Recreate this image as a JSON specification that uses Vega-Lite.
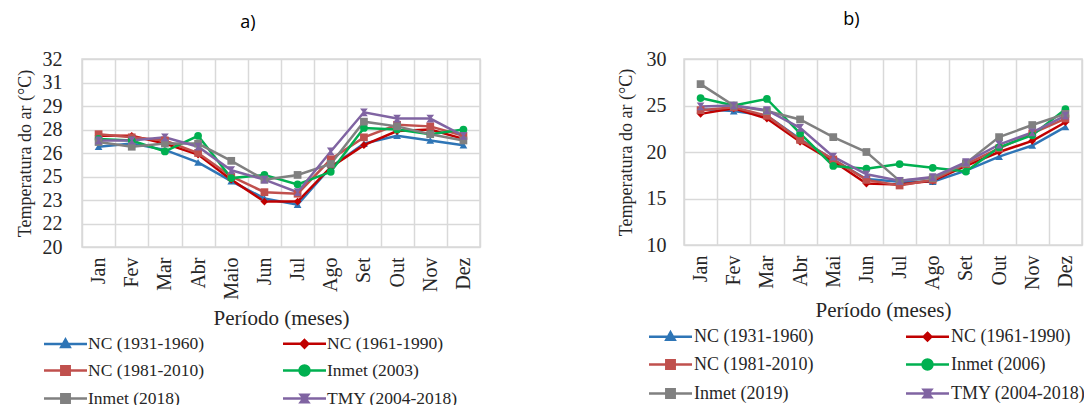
{
  "$schema": "https://vega.github.io/schema/vega-lite/v6.json",
  "padding": {"left": 15, "top": 10, "right": 0, "bottom": 75},
  "spacing": 135,
  "resolve": {"scale": {"color": "independent", "shape": "independent"}, "legend": {"color": "independent", "shape": "independent"}},
  "config": {
    "view": {"stroke": "#d9d9d9", "strokeWidth": 1.5},
    "axis": {
      "labelFont": "Liberation Serif", "titleFont": "Liberation Serif",
      "labelColor": "#262626", "titleColor": "#262626",
      "labelFontSize": 20, "titleFontWeight": "normal",
      "gridColor": "#d9d9d9", "gridWidth": 1.5, "tickSize": 0, "ticks": false, "domain": false
    }
  },
  "datasets": {
    "a": [
      {"mes": "Jan", "serie": "NC (1931-1960)", "t": 26.4}, {"mes": "Fev", "serie": "NC (1931-1960)", "t": 26.6}, {"mes": "Mar", "serie": "NC (1931-1960)", "t": 26.2}, {"mes": "Abr", "serie": "NC (1931-1960)", "t": 25.4}, {"mes": "Maio", "serie": "NC (1931-1960)", "t": 24.2}, {"mes": "Jun", "serie": "NC (1931-1960)", "t": 23.1}, {"mes": "Jul", "serie": "NC (1931-1960)", "t": 22.7}, {"mes": "Ago", "serie": "NC (1931-1960)", "t": 25.1}, {"mes": "Set", "serie": "NC (1931-1960)", "t": 26.6}, {"mes": "Out", "serie": "NC (1931-1960)", "t": 27.1}, {"mes": "Nov", "serie": "NC (1931-1960)", "t": 26.8}, {"mes": "Dez", "serie": "NC (1931-1960)", "t": 26.5},
      {"mes": "Jan", "serie": "NC (1961-1990)", "t": 27.1}, {"mes": "Fev", "serie": "NC (1961-1990)", "t": 27.1}, {"mes": "Mar", "serie": "NC (1961-1990)", "t": 26.6}, {"mes": "Abr", "serie": "NC (1961-1990)", "t": 25.9}, {"mes": "Maio", "serie": "NC (1961-1990)", "t": 24.3}, {"mes": "Jun", "serie": "NC (1961-1990)", "t": 22.9}, {"mes": "Jul", "serie": "NC (1961-1990)", "t": 22.9}, {"mes": "Ago", "serie": "NC (1961-1990)", "t": 25.1}, {"mes": "Set", "serie": "NC (1961-1990)", "t": 26.5}, {"mes": "Out", "serie": "NC (1961-1990)", "t": 27.4}, {"mes": "Nov", "serie": "NC (1961-1990)", "t": 27.5}, {"mes": "Dez", "serie": "NC (1961-1990)", "t": 26.9},
      {"mes": "Jan", "serie": "NC (1981-2010)", "t": 27.2}, {"mes": "Fev", "serie": "NC (1981-2010)", "t": 27.0}, {"mes": "Mar", "serie": "NC (1981-2010)", "t": 26.8}, {"mes": "Abr", "serie": "NC (1981-2010)", "t": 26.0}, {"mes": "Maio", "serie": "NC (1981-2010)", "t": 24.5}, {"mes": "Jun", "serie": "NC (1981-2010)", "t": 23.5}, {"mes": "Jul", "serie": "NC (1981-2010)", "t": 23.4}, {"mes": "Ago", "serie": "NC (1981-2010)", "t": 25.6}, {"mes": "Set", "serie": "NC (1981-2010)", "t": 27.0}, {"mes": "Out", "serie": "NC (1981-2010)", "t": 27.8}, {"mes": "Nov", "serie": "NC (1981-2010)", "t": 27.7}, {"mes": "Dez", "serie": "NC (1981-2010)", "t": 27.1},
      {"mes": "Jan", "serie": "Inmet (2003)", "t": 26.9}, {"mes": "Fev", "serie": "Inmet (2003)", "t": 26.8}, {"mes": "Mar", "serie": "Inmet (2003)", "t": 26.1}, {"mes": "Abr", "serie": "Inmet (2003)", "t": 27.1}, {"mes": "Maio", "serie": "Inmet (2003)", "t": 24.4}, {"mes": "Jun", "serie": "Inmet (2003)", "t": 24.6}, {"mes": "Jul", "serie": "Inmet (2003)", "t": 24.0}, {"mes": "Ago", "serie": "Inmet (2003)", "t": 24.8}, {"mes": "Set", "serie": "Inmet (2003)", "t": 27.6}, {"mes": "Out", "serie": "Inmet (2003)", "t": 27.5}, {"mes": "Nov", "serie": "Inmet (2003)", "t": 27.2}, {"mes": "Dez", "serie": "Inmet (2003)", "t": 27.5},
      {"mes": "Jan", "serie": "Inmet (2018)", "t": 26.7}, {"mes": "Fev", "serie": "Inmet (2018)", "t": 26.4}, {"mes": "Mar", "serie": "Inmet (2018)", "t": 26.6}, {"mes": "Abr", "serie": "Inmet (2018)", "t": 26.6}, {"mes": "Maio", "serie": "Inmet (2018)", "t": 25.5}, {"mes": "Jun", "serie": "Inmet (2018)", "t": 24.3}, {"mes": "Jul", "serie": "Inmet (2018)", "t": 24.6}, {"mes": "Ago", "serie": "Inmet (2018)", "t": 25.3}, {"mes": "Set", "serie": "Inmet (2018)", "t": 28.0}, {"mes": "Out", "serie": "Inmet (2018)", "t": 27.7}, {"mes": "Nov", "serie": "Inmet (2018)", "t": 27.2}, {"mes": "Dez", "serie": "Inmet (2018)", "t": 26.8},
      {"mes": "Jan", "serie": "TMY (2004-2018)", "t": 26.8}, {"mes": "Fev", "serie": "TMY (2004-2018)", "t": 26.8}, {"mes": "Mar", "serie": "TMY (2004-2018)", "t": 27.0}, {"mes": "Abr", "serie": "TMY (2004-2018)", "t": 26.4}, {"mes": "Maio", "serie": "TMY (2004-2018)", "t": 24.9}, {"mes": "Jun", "serie": "TMY (2004-2018)", "t": 24.3}, {"mes": "Jul", "serie": "TMY (2004-2018)", "t": 23.5}, {"mes": "Ago", "serie": "TMY (2004-2018)", "t": 26.1}, {"mes": "Set", "serie": "TMY (2004-2018)", "t": 28.6}, {"mes": "Out", "serie": "TMY (2004-2018)", "t": 28.2}, {"mes": "Nov", "serie": "TMY (2004-2018)", "t": 28.2}, {"mes": "Dez", "serie": "TMY (2004-2018)", "t": 27.1}
    ],
    "b": [
      {"mes": "Jan", "serie": "NC (1931-1960)", "t": 24.6}, {"mes": "Fev", "serie": "NC (1931-1960)", "t": 24.4}, {"mes": "Mar", "serie": "NC (1931-1960)", "t": 23.9}, {"mes": "Abr", "serie": "NC (1931-1960)", "t": 21.4}, {"mes": "Mai", "serie": "NC (1931-1960)", "t": 19.2}, {"mes": "Jun", "serie": "NC (1931-1960)", "t": 17.1}, {"mes": "Jul", "serie": "NC (1931-1960)", "t": 16.8}, {"mes": "Ago", "serie": "NC (1931-1960)", "t": 16.8}, {"mes": "Set", "serie": "NC (1931-1960)", "t": 18.0}, {"mes": "Out", "serie": "NC (1931-1960)", "t": 19.5}, {"mes": "Nov", "serie": "NC (1931-1960)", "t": 20.7}, {"mes": "Dez", "serie": "NC (1931-1960)", "t": 22.7},
      {"mes": "Jan", "serie": "NC (1961-1990)", "t": 24.1}, {"mes": "Fev", "serie": "NC (1961-1990)", "t": 24.7}, {"mes": "Mar", "serie": "NC (1961-1990)", "t": 23.6}, {"mes": "Abr", "serie": "NC (1961-1990)", "t": 21.1}, {"mes": "Mai", "serie": "NC (1961-1990)", "t": 19.0}, {"mes": "Jun", "serie": "NC (1961-1990)", "t": 16.6}, {"mes": "Jul", "serie": "NC (1961-1990)", "t": 16.5}, {"mes": "Ago", "serie": "NC (1961-1990)", "t": 16.9}, {"mes": "Set", "serie": "NC (1961-1990)", "t": 18.5}, {"mes": "Out", "serie": "NC (1961-1990)", "t": 20.0}, {"mes": "Nov", "serie": "NC (1961-1990)", "t": 21.2}, {"mes": "Dez", "serie": "NC (1961-1990)", "t": 23.2},
      {"mes": "Jan", "serie": "NC (1981-2010)", "t": 24.5}, {"mes": "Fev", "serie": "NC (1981-2010)", "t": 24.8}, {"mes": "Mar", "serie": "NC (1981-2010)", "t": 23.9}, {"mes": "Abr", "serie": "NC (1981-2010)", "t": 21.3}, {"mes": "Mai", "serie": "NC (1981-2010)", "t": 19.2}, {"mes": "Jun", "serie": "NC (1981-2010)", "t": 17.0}, {"mes": "Jul", "serie": "NC (1981-2010)", "t": 16.4}, {"mes": "Ago", "serie": "NC (1981-2010)", "t": 17.0}, {"mes": "Set", "serie": "NC (1981-2010)", "t": 18.7}, {"mes": "Out", "serie": "NC (1981-2010)", "t": 20.4}, {"mes": "Nov", "serie": "NC (1981-2010)", "t": 22.0}, {"mes": "Dez", "serie": "NC (1981-2010)", "t": 23.6},
      {"mes": "Jan", "serie": "Inmet (2006)", "t": 25.8}, {"mes": "Fev", "serie": "Inmet (2006)", "t": 25.0}, {"mes": "Mar", "serie": "Inmet (2006)", "t": 25.7}, {"mes": "Abr", "serie": "Inmet (2006)", "t": 22.0}, {"mes": "Mai", "serie": "Inmet (2006)", "t": 18.5}, {"mes": "Jun", "serie": "Inmet (2006)", "t": 18.2}, {"mes": "Jul", "serie": "Inmet (2006)", "t": 18.7}, {"mes": "Ago", "serie": "Inmet (2006)", "t": 18.3}, {"mes": "Set", "serie": "Inmet (2006)", "t": 17.9}, {"mes": "Out", "serie": "Inmet (2006)", "t": 20.5}, {"mes": "Nov", "serie": "Inmet (2006)", "t": 21.8}, {"mes": "Dez", "serie": "Inmet (2006)", "t": 24.6},
      {"mes": "Jan", "serie": "Inmet (2019)", "t": 27.3}, {"mes": "Fev", "serie": "Inmet (2019)", "t": 25.0}, {"mes": "Mar", "serie": "Inmet (2019)", "t": 24.4}, {"mes": "Abr", "serie": "Inmet (2019)", "t": 23.5}, {"mes": "Mai", "serie": "Inmet (2019)", "t": 21.6}, {"mes": "Jun", "serie": "Inmet (2019)", "t": 20.0}, {"mes": "Jul", "serie": "Inmet (2019)", "t": 16.9}, {"mes": "Ago", "serie": "Inmet (2019)", "t": 17.2}, {"mes": "Set", "serie": "Inmet (2019)", "t": 18.8}, {"mes": "Out", "serie": "Inmet (2019)", "t": 21.6}, {"mes": "Nov", "serie": "Inmet (2019)", "t": 22.9}, {"mes": "Dez", "serie": "Inmet (2019)", "t": 24.1},
      {"mes": "Jan", "serie": "TMY (2004-2018)", "t": 24.9}, {"mes": "Fev", "serie": "TMY (2004-2018)", "t": 25.0}, {"mes": "Mar", "serie": "TMY (2004-2018)", "t": 24.5}, {"mes": "Abr", "serie": "TMY (2004-2018)", "t": 22.6}, {"mes": "Mai", "serie": "TMY (2004-2018)", "t": 19.5}, {"mes": "Jun", "serie": "TMY (2004-2018)", "t": 17.6}, {"mes": "Jul", "serie": "TMY (2004-2018)", "t": 16.9}, {"mes": "Ago", "serie": "TMY (2004-2018)", "t": 17.3}, {"mes": "Set", "serie": "TMY (2004-2018)", "t": 18.9}, {"mes": "Out", "serie": "TMY (2004-2018)", "t": 20.8}, {"mes": "Nov", "serie": "TMY (2004-2018)", "t": 22.1}, {"mes": "Dez", "serie": "TMY (2004-2018)", "t": 23.9}
    ]
  },
  "hconcat": [
    {
      "width": 398, "height": 188,
      "title": {"text": "a)", "offset": 17, "font": "Open Sans", "fontSize": 18, "fontWeight": "normal", "color": "#000000", "frame": "bounds", "anchor": "middle"},
      "data": {"name": "a"},
      "encoding": {
        "x": {"field": "mes", "type": "ordinal", "sort": ["Jan", "Fev", "Mar", "Abr", "Maio", "Jun", "Jul", "Ago", "Set", "Out", "Nov", "Dez"],
          "scale": {"type": "band", "paddingInner": 0, "paddingOuter": 0},
          "axis": {"title": "Período (meses)", "titleFont": "Liberation Serif", "titleFontSize": 21, "labelAngle": -90, "grid": true, "tickBand": "extent", "labelPadding": 10, "titlePadding": 8}},
        "y": {"field": "t", "type": "quantitative",
          "scale": {"domain": [20, 32], "nice": false, "zero": false},
          "axis": {"title": "Temperatura do ar (°C)", "titleFont": "Liberation Serif", "titleFontSize": 18, "values": [20, 21.5, 23, 24.5, 26, 27.5, 29, 30.5, 32], "format": ".0f", "grid": true, "labelPadding": 20, "titlePadding": 8}},
        "color": {"field": "serie", "type": "nominal",
          "scale": {"domain": ["NC (1931-1960)", "NC (1961-1990)", "NC (1981-2010)", "Inmet (2003)", "Inmet (2018)", "TMY (2004-2018)"],
            "range": ["#2E75B6", "#C00000", "#C0504D", "#00B050", "#808080", "#8064A2"]},
          "legend": {"title": null, "orient": "none", "legendX": -28, "legendY": 273, "direction": "horizontal", "columns": 2, "columnPadding": 73, "rowPadding": 6, "symbolSize": 400, "labelOffset": 11, "labelFont": "Liberation Serif", "labelFontSize": 17.5, "labelColor": "#262626",
            "encode": {"symbols": {"update": {
              "shape": {"signal": "['M-2.15,0H2.15M0,-0.45L0.42,0.3H-0.42Z','M-2.15,0H2.15M0,-0.38L0.38,0L0,0.38L-0.38,0Z','M-2.15,0H2.15M-0.42,-0.42H0.42V0.42H-0.42Z','M-2.15,0H2.15M0.5,0A0.5,0.5,0,1,1,-0.5,0A0.5,0.5,0,1,1,0.5,0Z','M-2.15,0H2.15M-0.42,-0.42H0.42V0.42H-0.42Z','M-2.15,0H2.15M-0.38,-0.38H0.38L0.1,0L0.38,0.38H-0.38L-0.1,0Z'][indexof(['NC (1931-1960)','NC (1961-1990)','NC (1981-2010)','Inmet (2003)','Inmet (2018)','TMY (2004-2018)'], datum.value)]"},
              "strokeWidth": {"value": 2.5}, "opacity": {"value": 1}}}}}}
      },
      "layer": [
        {"mark": {"type": "line", "strokeWidth": 2.5}},
        {"mark": {"type": "point", "filled": true, "size": 60, "opacity": 1},
          "encoding": {
            "shape": {"field": "serie", "type": "nominal", "legend": null,
              "scale": {"domain": ["TMY (2004-2018)", "Inmet (2018)", "Inmet (2003)", "NC (1981-2010)", "NC (1961-1990)", "NC (1931-1960)"],
                "range": ["M-1,-1H1L0.25,0L1,1H-1L-0.25,0Z", "square", "circle", "square", "diamond", "triangle-up"]}}
          }}
      ]
    },
    {
      "width": 398, "height": 186,
      "title": {"text": "b)", "offset": 20, "font": "Open Sans", "fontSize": 18, "fontWeight": "normal", "color": "#000000", "frame": "bounds", "anchor": "middle"},
      "data": {"name": "b"},
      "encoding": {
        "x": {"field": "mes", "type": "ordinal", "sort": ["Jan", "Fev", "Mar", "Abr", "Mai", "Jun", "Jul", "Ago", "Set", "Out", "Nov", "Dez"],
          "scale": {"type": "band", "paddingInner": 0, "paddingOuter": 0},
          "axis": {"title": "Período (meses)", "titleFont": "Liberation Serif", "titleFontSize": 21, "labelAngle": -90, "grid": true, "tickBand": "extent", "labelPadding": 10, "titlePadding": 10}},
        "y": {"field": "t", "type": "quantitative",
          "scale": {"domain": [10, 30], "nice": false, "zero": false},
          "axis": {"title": "Temperatura do ar (°C)", "titleFont": "Liberation Serif", "titleFontSize": 18, "values": [10, 15, 20, 25, 30], "grid": true, "labelPadding": 18, "titlePadding": 11}},
        "color": {"field": "serie", "type": "nominal",
          "scale": {"domain": ["NC (1931-1960)", "NC (1961-1990)", "NC (1981-2010)", "Inmet (2006)", "Inmet (2019)", "TMY (2004-2018)"],
            "range": ["#2E75B6", "#C00000", "#C0504D", "#00B050", "#808080", "#8064A2"]},
          "legend": {"title": null, "orient": "none", "legendX": -25, "legendY": 266, "direction": "horizontal", "columns": 2, "columnPadding": 87, "rowPadding": 7, "symbolSize": 400, "labelOffset": 12, "labelFont": "Liberation Serif", "labelFontSize": 18, "labelColor": "#262626",
            "encode": {"symbols": {"update": {
              "shape": {"signal": "['M-2.15,0H2.15M0,-0.45L0.42,0.3H-0.42Z','M-2.15,0H2.15M0,-0.38L0.38,0L0,0.38L-0.38,0Z','M-2.15,0H2.15M-0.42,-0.42H0.42V0.42H-0.42Z','M-2.15,0H2.15M0.5,0A0.5,0.5,0,1,1,-0.5,0A0.5,0.5,0,1,1,0.5,0Z','M-2.15,0H2.15M-0.42,-0.42H0.42V0.42H-0.42Z','M-2.15,0H2.15M-0.38,-0.38H0.38L0.1,0L0.38,0.38H-0.38L-0.1,0Z'][indexof(['NC (1931-1960)','NC (1961-1990)','NC (1981-2010)','Inmet (2006)','Inmet (2019)','TMY (2004-2018)'], datum.value)]"},
              "strokeWidth": {"value": 2.5}, "opacity": {"value": 1}}}}}}
      },
      "layer": [
        {"mark": {"type": "line", "strokeWidth": 2.5}},
        {"mark": {"type": "point", "filled": true, "size": 60, "opacity": 1},
          "encoding": {
            "shape": {"field": "serie", "type": "nominal", "legend": null,
              "scale": {"domain": ["TMY (2004-2018)", "Inmet (2019)", "Inmet (2006)", "NC (1981-2010)", "NC (1961-1990)", "NC (1931-1960)"],
                "range": ["M-1,-1H1L0.25,0L1,1H-1L-0.25,0Z", "square", "circle", "square", "diamond", "triangle-up"]}}
          }}
      ]
    }
  ]
}
